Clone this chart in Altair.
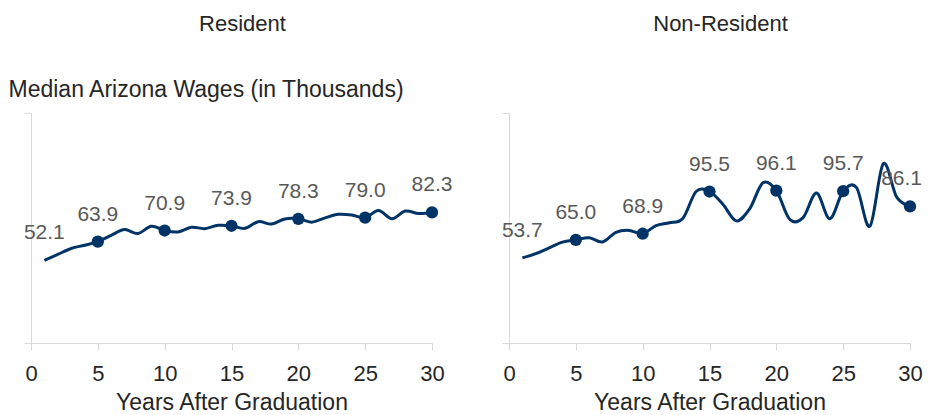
import altair as alt
import pandas as pd

# ---- data ----
years = list(range(1, 31))
resident = [52.1, 55.8, 59.6, 61.6, 63.9, 67.9, 71.5, 69.0, 73.6, 70.9,
            70.0, 73.0, 72.1, 74.2, 73.9, 72.3, 76.5, 75.0, 78.2, 78.3,
            76.2, 78.9, 81.1, 80.7, 79.0, 83.6, 78.4, 83.2, 81.6, 82.3]
non_resident = [53.7, 56.3, 60.0, 63.6, 65.0, 66.4, 63.7, 69.8, 71.0, 68.9,
                74.0, 75.8, 78.5, 95.5, 95.5, 87.5, 77.0, 84.5, 101.0, 96.1,
                78.0, 79.0, 94.5, 78.4, 95.7, 97.9, 73.6, 113.0, 92.0, 86.1]
x_ticks = [0, 5, 10, 15, 20, 25, 30]
panel_titles = ["Resident", "Non-Resident"]
y_title = "Median Arizona Wages (in Thousands)"
x_title = "Years After Graduation"

NAVY = "#003366"
FONT = "Liberation Sans"
TEXT = "#262626"
AXIS = "#d9d9d9"


def panel(values, title_text, ytitle, title_offset, last_right):
    df = pd.DataFrame({"year": years, "wage": values})
    x = alt.X(
        "year:Q",
        scale=alt.Scale(domain=[0, 30], nice=False, zero=False),
        axis=alt.Axis(
            values=x_ticks, grid=False, domainColor=AXIS, tickColor=AXIS,
            tickSize=7, labelFontSize=22, labelColor=TEXT, labelFont=FONT,
            labelPadding=13, labelFlush=False, titleFont=FONT, titleFontSize=23,
            titleFontWeight="normal", titleColor=TEXT, titleBaseline="alphabetic",
            titleY=66,
        ),
        title=x_title,
    )
    yaxis_kwargs = dict(
        values=[0, 145], labels=False, grid=False, domainColor=AXIS,
        tickColor=AXIS, tickSize=7,
    )
    if ytitle:
        yaxis_kwargs.update(
            titleFont=FONT, titleFontSize=23, titleFontWeight="normal",
            titleColor=TEXT, titleAngle=0, titleAlign="left",
            titleBaseline="alphabetic", titleX=-23, titleY=-17,
        )
        y = alt.Y("wage:Q", scale=alt.Scale(domain=[0, 145], nice=False),
                  axis=alt.Axis(**yaxis_kwargs), title=ytitle)
    else:
        y = alt.Y("wage:Q", scale=alt.Scale(domain=[0, 145], nice=False),
                  axis=alt.Axis(**yaxis_kwargs), title=None)

    base = alt.Chart(df).encode(x=x, y=y)
    line = base.mark_line(interpolate="cardinal", color=NAVY, strokeWidth=3)
    pts = base.transform_filter("datum.year % 5 == 0").mark_circle(
        size=150, color=NAVY, opacity=1)
    txt = dict(dy=-21, baseline="alphabetic", fontSize=21,
               color="#595959", font=FONT)
    labels = base.transform_filter(
        "datum.year == 1 || (datum.year % 5 == 0 && datum.year < 30)").mark_text(
        align="center", **txt).encode(text=alt.Text("wage:Q", format=".1f"))
    if last_right:
        last = base.transform_filter("datum.year == 30").mark_text(
            align="right", dx=12, **txt).encode(
            text=alt.Text("wage:Q", format=".1f"))
    else:
        last = base.transform_filter("datum.year == 30").mark_text(
            align="center", **txt).encode(
            text=alt.Text("wage:Q", format=".1f"))
    return alt.layer(line, pts, labels, last).properties(
        width=401, height=230,
        title=alt.TitleParams(
            text=title_text, fontSize=22, fontWeight="normal", color=TEXT,
            font=FONT, anchor="middle", frame="group", offset=title_offset,
            baseline="alphabetic", dx=11),
    )


left = panel(resident, panel_titles[0], y_title, 25, False)
right = panel(non_resident, panel_titles[1], None, 60, True)

chart = alt.hconcat(left, right, spacing=77, bounds="flush").properties(
    padding={"left": 0, "top": 4, "right": 0, "bottom": 0}
).configure_view(strokeWidth=0)

chart.save("out.html", embed_options={"renderer": "svg", "actions": False})
